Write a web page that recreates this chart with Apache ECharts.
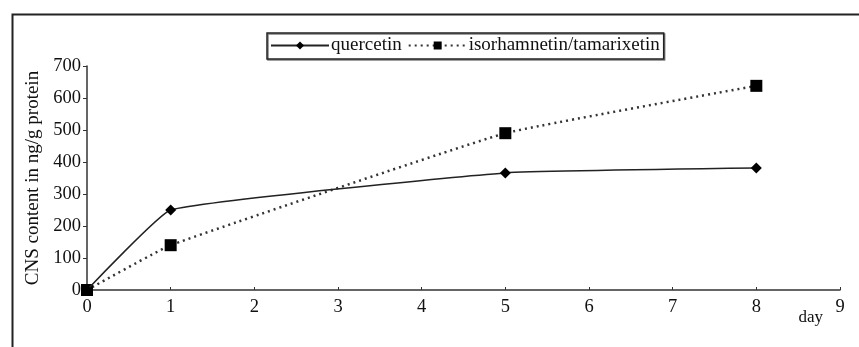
<!DOCTYPE html>
<html>
<head>
<meta charset="utf-8">
<script src="https://cdn.jsdelivr.net/npm/echarts@6/dist/echarts.min.js"></script>
<style>
  html, body { margin: 0; padding: 0; background: #fff; }
  #chart { width: 859px; height: 347px; }
</style>
</head>
<body>
<div id="chart"></div>
<script>
// days sampled and CNS content (ng/g protein)
const days = [0, 1, 5, 8];
const quercetin = [0, 250, 366, 381];
const isorhamnetin = [0, 140, 490, 638];
const seriesNames = ['quercetin', 'isorhamnetin/tamarixetin'];

const FONT = '"Liberation Serif", "DejaVu Serif", serif';
const INK = '#111';

const pairs = (xs, ys) => xs.map((x, i) => [x, ys[i]]);

const chart = echarts.init(document.getElementById('chart'));
chart.setOption({
  animation: false,
  backgroundColor: '#fff',
  textStyle: { fontFamily: FONT, color: INK },
  graphic: [{
    type: 'rect',
    left: 10, top: 12,
    shape: { width: 880, height: 360 },
    style: { fill: 'none', stroke: '#222', lineWidth: 2 }
  }],
  legend: {
    data: seriesNames,
    left: 267, top: 33,
    padding: [3, 4, 4, 3],
    itemGap: 6,
    itemWidth: 58,
    itemHeight: 10,
    borderColor: '#222',
    borderWidth: 1.5,
    borderRadius: 0,
    shadowColor: 'rgba(0,0,0,0.5)',
    shadowOffsetX: 1, shadowOffsetY: 1,
    textStyle: { fontFamily: FONT, fontSize: 19, color: INK, padding: [0, 0, 0, -3] }
  },
  grid: { left: 87, right: 19, top: 66, bottom: 57, containLabel: false },
  xAxis: {
    type: 'value',
    min: 0, max: 9, interval: 1,
    name: 'day',
    nameLocation: 'end',
    nameGap: -17,
    nameTextStyle: {
      fontFamily: FONT, fontSize: 17, color: INK,
      align: 'right', verticalAlign: 'top', padding: [19, 0, 0, 0]
    },
    axisLine: { lineStyle: { color: '#333', width: 1.5 } },
    axisTick: { inside: true, length: 3, lineStyle: { color: '#333' } },
    axisLabel: { fontFamily: FONT, fontSize: 18.5, color: INK, margin: 8 },
    splitLine: { show: false }
  },
  yAxis: {
    type: 'value',
    min: 0, max: 700, interval: 100,
    name: 'CNS content in ng/g protein',
    nameLocation: 'middle',
    nameRotate: 90,
    nameGap: 39,
    nameTextStyle: { fontFamily: FONT, fontSize: 19, color: INK },
    axisLine: { show: true, lineStyle: { color: '#333', width: 1.5 } },
    axisTick: { show: true, length: 4, lineStyle: { color: '#333' } },
    axisLabel: { fontFamily: FONT, fontSize: 18.5, color: INK, margin: 6 },
    splitLine: { show: false }
  },
  series: [
    {
      name: seriesNames[0],
      type: 'line',
      data: pairs(days, quercetin),
      smooth: 0.1,
      symbol: 'diamond',
      symbolSize: 11,
      itemStyle: { color: '#000' },
      lineStyle: { color: '#222', width: 1.5 },
      z: 3
    },
    {
      name: seriesNames[1],
      type: 'line',
      data: pairs(days, isorhamnetin),
      smooth: 0.1,
      symbol: 'rect',
      symbolSize: 12,
      itemStyle: { color: '#000' },
      lineStyle: { color: '#333', width: 2.5, type: [2, 4] },
      z: 2
    }
  ]
});
</script>
</body>
</html>
